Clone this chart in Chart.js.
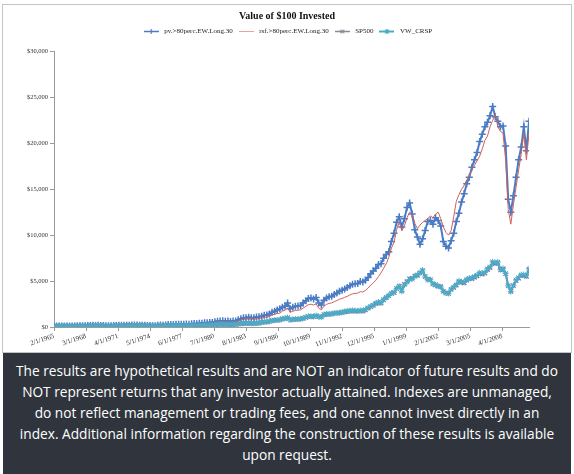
<!DOCTYPE html>
<html lang="en">
<head>
<meta charset="UTF-8" />
<title>Value of $100 Invested</title>
<script src="https://cdn.jsdelivr.net/npm/chart.js"></script>
<style>
  html, body { margin: 0; padding: 0; background: #fff; }
  body { width: 574px; height: 474px; position: relative; overflow: hidden; }
  #frame { position: absolute; left: 2px; top: 4px; width: 568px; height: 347px; border: 1px solid #c4c4c4; }
  #wrap { position: absolute; left: 0; top: 0; width: 574px; height: 352px; }
  #caption {
    position: absolute; left: 3px; top: 353px; width: 568px; height: 121px;
    background: #30353d; color: #fff; font-family: "Open Sans", sans-serif;
    font-size: 13.7px; line-height: 21px; text-align: center;
    padding-top: 7px; box-sizing: border-box; white-space: nowrap;
  }
</style>
</head>
<body>
  <div id="frame"></div>
  <div id="wrap"><canvas id="chart" width="574" height="352"></canvas></div>
  <div id="caption">
    The results are hypothetical results and are NOT an indicator of future results and do<br>
    NOT represent returns that any investor actually attained. Indexes are unmanaged,<br>
    do not reflect management or trading fees, and one cannot invest directly in an<br>
    index. Additional information regarding the construction of these results is available<br>
    upon request.
  </div>

<script>
  // quarterly samples (Feb, May, Aug, Nov), 1965 - 2010
  const firstYear = 1965;
  const lastYear = 2010;
  const sampleMonths = [2, 5, 8, 11];

  const tickLabels = ['2/1/1965', '3/1/1968', '4/1/1971', '5/1/1974', '6/1/1977', '7/1/1980', '8/1/1983',
    '9/1/1986', '10/1/1989', '11/1/1992', '12/1/1995', '1/1/1999', '2/1/2002', '3/1/2005', '4/1/2008'];

  const pvValues = [
    100, 103, 104, 112,   116, 108, 98, 101,     118, 130, 140, 142,     142, 160, 166, 185,
    176, 178, 160, 162,   148, 128, 140, 156,    172, 182, 184, 182,     198, 202, 210, 222,
    210, 196, 198, 186,   176, 168, 146, 148,    182, 206, 204, 222,     262, 272, 282, 292,
    300, 302, 306, 318,   310, 350, 390, 360,    400, 420, 460, 450,     500, 500, 560, 620,
    640, 670, 630, 650,   610, 640, 660, 780,    900, 1000, 1010, 1060,  1020, 1000, 1080, 1110,
    1180, 1280, 1320, 1420,   1600, 1720, 1850, 2000,   2150, 2250, 2600, 2000,   2150, 2250, 2300, 2350,
    2600, 2850, 3100, 3150,   3050, 3200, 2600, 2400,   2900, 3150, 3300, 3350,   3550, 3700, 3900, 4000,
    4150, 4300, 4500, 4650,   4700, 4750, 4950, 4900,   5100, 5400, 5800, 6100,   6400, 6800, 6900, 7500,
    7900, 8200, 9300, 10200,  11400, 12000, 10900, 11800,  13000, 13500, 12300, 10600,  9800, 9000, 9600, 10500,
    11500, 11600, 11200, 11900,  11600, 11000, 9300, 8800,  8600, 9400, 10200, 11500,  12400, 13600, 14500, 15600,
    16300, 17400, 18200, 19000,  20200, 21000, 21800, 22300,  23000, 24000, 22900, 22400,  21800, 21900, 19700, 13900,
    12500, 14300, 16300, 18200,  19600, 21800, 19200, 22400
  ];

  const rsfValues = [
    100, 102, 102, 109,   112, 104, 95, 97,      112, 122, 130, 131,     130, 145, 150, 166,
    158, 160, 145, 147,   135, 118, 128, 142,    156, 164, 166, 165,     178, 182, 188, 198,
    188, 176, 177, 167,   158, 150, 131, 133,    163, 184, 182, 198,     232, 240, 248, 256,
    262, 264, 268, 278,   270, 305, 338, 312,    346, 362, 396, 386,     428, 428, 478, 528,
    544, 568, 534, 550,   516, 540, 556, 656,    755, 836, 845, 885,     850, 832, 898, 922,
    978, 1060, 1090, 1170,    1310, 1400, 1460, 1500,   1740, 1820, 2080, 1600,   1720, 1790, 1830, 1870,
    2060, 2250, 2440, 2480,   2400, 2510, 2040, 1880,   2270, 2460, 2580, 2620,   2770, 2880, 3030, 3110,
    3230, 3340, 3490, 3610,   3650, 3690, 3850, 3810,   3980, 4230, 4560, 4800,   5100, 5500, 5900, 6400,
    6900, 7600, 8600, 9200,   10600, 11400, 10500, 11000,  11900, 12500, 12300, 11300,  10700, 11100, 11400, 11600,
    11800, 12100, 11900, 12300,  12500, 11800, 10900, 10300,  10000, 10500, 12000, 13700,  14400, 15000, 15400, 16000,
    16500, 17100, 17600, 18100,  18600, 19400, 20300, 20800,  21800, 22500, 23200, 21800,  21300, 21100, 18200, 12800,
    11200, 13300, 15200, 17100,  18800, 21100, 18200, 21100
  ];

  const sp500Values = [
    100, 102, 101, 107,   108, 100, 92, 93,      103, 108, 113, 112,     109, 119, 121, 132,
    127, 130, 120, 124,   115, 100, 108, 119,    129, 135, 136, 134,     145, 150, 157, 167,
    160, 152, 152, 144,   131, 120, 101, 100,    118, 130, 129, 138,     159, 161, 165, 168,
    167, 162, 160, 162,   152, 165, 180, 168,    182, 187, 205, 199,     225, 220, 250, 288,
    280, 290, 270, 275,   255, 265, 270, 320,    355, 390, 390, 405,     385, 380, 420, 425,
    500, 540, 550, 600,   690, 730, 750, 760,    880, 900, 1000, 760,    820, 840, 840, 870,
    940, 1030, 1150, 1150,    1120, 1230, 1110, 1090,   1330, 1390, 1400, 1410,   1490, 1530, 1530, 1590,
    1650, 1690, 1730, 1740,   1730, 1710, 1770, 1730,   1850, 2050, 2200, 2350,   2550, 2650, 2600, 2950,
    3200, 3400, 3650, 3750,   4200, 4450, 3950, 4650,   4950, 5250, 5300, 5550,   5600, 5900, 6150, 5500,
    5200, 5150, 4700, 4600,   4450, 4400, 3900, 3700,   3650, 4100, 4300, 4550,   4950, 4850, 4800, 5100,
    5250, 5250, 5400, 5550,   5800, 5750, 5850, 6250,   6450, 7000, 6900, 7000,   6200, 6300, 5800, 4500,
    3900, 4500, 5050, 5300,   5600, 5600, 5500, 6250
  ];

  const vwCrspValues = [
    100, 103, 102, 109,   110, 101, 92, 94,      106, 112, 118, 117,     114, 126, 128, 140,
    134, 135, 124, 127,   117, 100, 108, 120,    131, 138, 138, 136,     147, 151, 157, 166,
    157, 146, 146, 136,   124, 113, 95, 94,      113, 127, 125, 135,     158, 160, 164, 168,
    166, 163, 162, 165,   155, 170, 186, 172,    188, 194, 214, 207,     235, 232, 265, 304,
    294, 305, 284, 288,   266, 277, 284, 338,    377, 418, 418, 432,     408, 402, 444, 448,
    520, 560, 570, 620,   705, 750, 770, 775,    905, 925, 1030, 775,    840, 860, 860, 890,
    960, 1050, 1170, 1165,    1130, 1240, 1110, 1080,   1340, 1410, 1420, 1435,   1510, 1550, 1550, 1620,
    1690, 1730, 1780, 1790,   1780, 1750, 1810, 1770,   1900, 2090, 2240, 2390,   2590, 2720, 2640, 2990,
    3230, 3420, 3700, 3770,   4200, 4430, 3880, 4580,   4870, 5180, 5220, 5520,   5700, 5850, 6200, 5450,
    5150, 5150, 4680, 4580,   4430, 4370, 3880, 3700,   3660, 4130, 4350, 4620,   5020, 4920, 4860, 5180,
    5330, 5330, 5500, 5650,   5920, 5850, 5940, 6350,   6550, 7100, 6980, 7080,   6250, 6380, 5840, 4480,
    3850, 4550, 5120, 5380,   5690, 5700, 5580, 6350
  ];

  // months since Feb 1965, used as the x position
  function monthIndex(year, month) {
    return (year - firstYear) * 12 + (month - 2);
  }
  function labelIndex(label) {
    const [m, d, y] = label.split('/').map(Number);
    return monthIndex(y, m);
  }

  const sampleX = [];
  for (let y = firstYear; y <= lastYear; y++) {
    sampleMonths.forEach(m => sampleX.push(monthIndex(y, m)));
  }
  const toPoints = values => values.map((v, i) => ({ x: sampleX[i], y: v }));

  const serif = '"Liberation Serif", "Times New Roman", serif';

  // little line + marker icon for the legend, Excel style
  function legendIcon(color, lineWidth, marker) {
    const c = document.createElement('canvas');
    c.width = 15; c.height = 9;
    const g = c.getContext('2d');
    const cx = 7.5, cy = 4.5, r = 2.5;
    g.strokeStyle = color;
    g.lineWidth = lineWidth;
    g.beginPath(); g.moveTo(0, cy); g.lineTo(15, cy); g.stroke();
    g.lineWidth = 1.2;
    g.beginPath();
    if (marker === 'cross' || marker === 'star') {
      g.moveTo(cx - r, cy); g.lineTo(cx + r, cy);
      g.moveTo(cx, cy - r); g.lineTo(cx, cy + r);
    }
    if (marker === 'crossRot' || marker === 'star') {
      g.moveTo(cx - r * 0.75, cy - r * 0.75); g.lineTo(cx + r * 0.75, cy + r * 0.75);
      g.moveTo(cx - r * 0.75, cy + r * 0.75); g.lineTo(cx + r * 0.75, cy - r * 0.75);
    }
    g.stroke();
    return c;
  }

  const datasets = [
    {
      label: 'pv.>80perc.EW.Long.30', data: toPoints(pvValues), order: 4,
      borderColor: '#4A7BC4', backgroundColor: '#4A7BC4', borderWidth: 2,
      pointStyle: 'cross', pointRadius: 3.5, pointBorderWidth: 1.5, icon: legendIcon('#4A7BC4', 1.5, 'cross')
    },
    {
      label: 'rsf.>80perc.EW.Long.30', data: toPoints(rsfValues), order: 3,
      borderColor: '#D0605B', backgroundColor: '#D0605B', borderWidth: 1,
      pointRadius: 0, icon: legendIcon('#E6A3A0', 1, 'none')
    },
    {
      label: 'SP500', data: toPoints(sp500Values), order: 2,
      borderColor: '#7F6F9F', backgroundColor: '#7F6F9F', borderWidth: 2,
      pointStyle: 'crossRot', pointRadius: 3, pointBorderWidth: 1.2, icon: legendIcon('#8A8A96', 1.5, 'crossRot')
    },
    {
      label: 'VW_CRSP', data: toPoints(vwCrspValues), order: 1,
      borderColor: '#4BACC6', backgroundColor: '#4BACC6', borderWidth: 1.8,
      pointStyle: 'star', pointRadius: 3, pointBorderWidth: 1, icon: legendIcon('#4BACC6', 2, 'star')
    }
  ];

  // extra room under the legend row, like the Excel layout
  const legendSpacer = {
    id: 'legendSpacer',
    beforeInit(chart) {
      const fit = chart.legend.fit;
      chart.legend.fit = function () {
        fit.call(this);
        this.height += 6.5;
      };
    }
  };

  new Chart(document.getElementById('chart'), {
    type: 'line',
    data: { datasets: datasets },
    plugins: [legendSpacer],
    options: {
      responsive: false,
      animation: false,
      layout: { padding: 0 },
      plugins: {
        tooltip: { enabled: false },
        title: {
          display: true,
          text: 'Value of $100 Invested',
          color: '#111',
          font: { family: serif, size: 10, weight: 'bold' },
          padding: { top: 10, bottom: 2 }
        },
        legend: {
          display: true,
          position: 'top',
          labels: {
            usePointStyle: true,
            pointStyleWidth: 19,
            boxHeight: 8,
            padding: 4,
            color: '#222',
            font: { family: serif, size: 7 },
            generateLabels: chart => chart.data.datasets.map((ds, i) => ({
              text: ds.label, pointStyle: ds.icon, datasetIndex: i,
              hidden: false, lineWidth: 0, fillStyle: 'transparent', strokeStyle: 'transparent', fontColor: '#222'
            }))
          }
        }
      },
      scales: {
        x: {
          type: 'linear',
          min: 0,
          max: 549,
          afterBuildTicks: scale => { scale.ticks = tickLabels.map(l => ({ value: labelIndex(l) })); },
          afterFit: scale => { scale.height = 25; },
          ticks: {
            autoSkip: false,
            minRotation: 18,
            maxRotation: 18,
            padding: 1,
            color: '#333',
            font: { family: serif, size: 7 },
            callback: (value, index) => tickLabels[index]
          },
          grid: { drawOnChartArea: false, tickLength: 4, color: '#9a9a9a' },
          border: { color: '#9a9a9a' }
        },
        y: {
          min: 0,
          max: 30000,
          afterFit: scale => { scale.width = 54; },
          ticks: {
            stepSize: 5000,
            padding: 2,
            color: '#333',
            font: { family: serif, size: 6.5 },
            callback: v => '$' + v.toLocaleString('en-US')
          },
          grid: { drawOnChartArea: false, tickLength: 4, color: '#9a9a9a' },
          border: { color: '#9a9a9a' }
        },
        // empty right-hand box: keeps the plot narrow while title and legend stay centred on the page
        yRight: {
          position: 'right',
          min: 0,
          max: 30000,
          afterFit: scale => { scale.width = 45; },
          ticks: { display: false },
          grid: { display: false },
          border: { display: false }
        }
      }
    }
  });
</script>
</body>
</html>
